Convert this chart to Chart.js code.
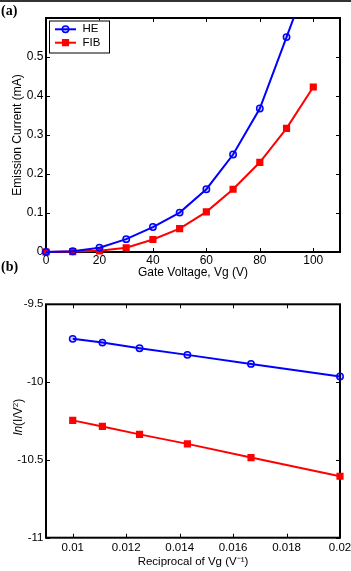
<!DOCTYPE html>
<html>
<head>
<meta charset="utf-8">
<script src="https://cdn.jsdelivr.net/npm/chart.js@4.4.0/dist/chart.umd.min.js"></script>
<style>
  html, body { margin: 0; padding: 0; background: #fff; }
  body { width: 351px; height: 571px; position: relative; overflow: hidden; }
  canvas { position: absolute; left: 0; }
  #ca { top: 0; }
  #cb { top: 285px; }
  .lbl { position: absolute; left: 1px; font: bold 14px "Liberation Serif", "Times New Roman", serif; line-height: 16px; color: #000; }
  #topline { position: absolute; left: 0; top: 0; width: 351px; height: 1.5px; background: #333; }
</style>
</head>
<body>
<canvas id="ca" width="351" height="285"></canvas>
<canvas id="cb" width="351" height="286"></canvas>
<div id="topline"></div>
<div class="lbl" style="top:3px">(a)</div>
<div class="lbl" style="top:259px">(b)</div>
<script>
// ---------- Data (a) ----------
const gateVoltage = [0, 10, 20, 30, 40, 50, 60, 70, 80, 90, 100];
const heCurrent   = [0, 0.002, 0.011, 0.033, 0.064, 0.101, 0.161, 0.250, 0.368, 0.551, 0.735];
const fibCurrent  = [0, 0.001, 0.003, 0.011, 0.032, 0.060, 0.103, 0.161, 0.230, 0.317, 0.423];
const aXTicks = [0, 20, 40, 60, 80, 100];
const aXTickLabels = ['0', '20', '40', '60', '80', '100'];
const aYTicks = [0, 0.1, 0.2, 0.3, 0.4, 0.5];
const aYTickLabels = ['0', '0.1', '0.2', '0.3', '0.4', '0.5'];

// ---------- Data (b) ----------
const reciprocalVg = [0.01, 0.01111, 0.0125, 0.01429, 0.01667, 0.02];
const heLn  = [-9.722, -9.746, -9.782, -9.825, -9.883, -9.964];
const fibLn = [-10.246, -10.285, -10.336, -10.397, -10.485, -10.605];
const bXTicks = [0.01, 0.012, 0.014, 0.016, 0.018, 0.02];
const bXTickLabels = ['0.01', '0.012', '0.014', '0.016', '0.018', '0.02'];
const bYTicks = [-11, -10.5, -10, -9.5];
const bYTickLabels = ['-11', '-10.5', '-10', '-9.5'];

const FONT = '"Liberation Sans", Arial, Helvetica, sans-serif';
const BLUE = '#0000ff', RED = '#ff0000';

function pts(xs, ys) { return xs.map((x, i) => ({ x: x, y: ys[i] })); }

const framePlugin = {
  id: 'frame',
  beforeDatasetsDraw(chart) {
    const { ctx, chartArea: { left, top, right, bottom } } = chart;
    const x = chart.scales.x, y = chart.scales.y;
    const L = 4;
    ctx.save();
    ctx.strokeStyle = '#000';
    ctx.lineWidth = 1;
    ctx.beginPath();
    x.ticks.forEach(t => {
      const px = Math.round(x.getPixelForValue(t.value)) + 0.5;
      ctx.moveTo(px, bottom); ctx.lineTo(px, bottom - L);
      ctx.moveTo(px, top); ctx.lineTo(px, top + L);
    });
    y.ticks.forEach(t => {
      const py = Math.round(y.getPixelForValue(t.value)) + 0.5;
      ctx.moveTo(left, py); ctx.lineTo(left + L, py);
      ctx.moveTo(right, py); ctx.lineTo(right - L, py);
    });
    ctx.stroke();
    ctx.lineWidth = 2;
    ctx.strokeRect(left, top, right - left, bottom - top);
    ctx.restore();
  }
};

const legendPlugin = {
  id: 'boxLegend',
  afterDatasetsDraw(chart, args, opts) {
    if (!opts || !opts.show) return;
    const ctx = chart.ctx;
    const bx = 49, by = 20.5, bw = 60, bh = 32;
    ctx.save();
    ctx.fillStyle = '#fff';
    ctx.fillRect(bx, by, bw, bh);
    ctx.strokeStyle = '#000';
    ctx.lineWidth = 1;
    ctx.strokeRect(bx + 0.5, by + 0.5, bw, bh);
    const rows = [29.3, 42.7];
    chart.data.datasets.forEach((ds, i) => {
      const yy = rows[i];
      ctx.strokeStyle = ds.borderColor;
      ctx.lineWidth = 2;
      ctx.beginPath(); ctx.moveTo(55, yy); ctx.lineTo(76, yy); ctx.stroke();
      ctx.fillStyle = ds.pointBackgroundColor;
      ctx.strokeStyle = ds.pointBorderColor;
      ctx.lineWidth = ds.pointBorderWidth;
      ctx.beginPath();
      if (ds.pointStyle === 'circle') {
        ctx.arc(65.5, yy, ds.pointRadius, 0, Math.PI * 2);
      } else {
        const s = Math.SQRT1_2 * ds.pointRadius;
        ctx.rect(65.5 - s, yy - s, 2 * s, 2 * s);
      }
      ctx.fill(); ctx.stroke();
      ctx.fillStyle = '#000';
      ctx.font = '11.5px ' + FONT;
      ctx.textBaseline = 'middle';
      ctx.textAlign = 'left';
      ctx.fillText(ds.label, 82.5, yy);
    });
    ctx.restore();
  }
};

const lnTitlePlugin = {
  id: 'lnTitle',
  afterDraw(chart, args, opts) {
    if (!opts || !opts.show) return;
    const ctx = chart.ctx;
    const cx = 17, cy = opts.cy;
    const parts = [
      { t: 'ln', f: 'italic 12px ' + FONT, dy: 0 },
      { t: '(I/V', f: '12px ' + FONT, dy: 0 },
      { t: '2', f: '8px ' + FONT, dy: -4 },
      { t: ')', f: '12px ' + FONT, dy: 0 }
    ];
    ctx.save();
    let total = 0;
    parts.forEach(p => { ctx.font = p.f; p.w = ctx.measureText(p.t).width; total += p.w; });
    ctx.translate(cx, cy);
    ctx.rotate(-Math.PI / 2);
    ctx.fillStyle = '#000';
    ctx.textBaseline = 'alphabetic';
    ctx.textAlign = 'left';
    let xx = -total / 2;
    parts.forEach(p => { ctx.font = p.f; ctx.fillText(p.t, xx, 4.5 + p.dy); xx += p.w; });
    ctx.restore();
  }
};

function makeAxis(opts) {
  return {
    type: 'linear',
    min: opts.min, max: opts.max,
    grid: { display: false, drawTicks: false, tickLength: 0 },
    border: { display: false },
    ticks: {
      color: '#000',
      font: { family: FONT, size: opts.fontSize },
      padding: opts.tickPad,
      maxRotation: 0, minRotation: 0,
      autoSkip: false,
      callback: (v, i) => opts.labels[i]
    },
    title: opts.title ? {
      display: true, text: opts.title, color: '#000',
      font: { family: FONT, size: opts.titleSize || opts.fontSize },
      padding: opts.titlePad
    } : { display: false },
    afterBuildTicks: s => { s.ticks = opts.ticks.map(v => ({ value: v })); },
    afterFit: s => {
      if (opts.horizontal) { s.height = opts.size; s.paddingLeft = 0; s.paddingRight = 0; }
      else { s.width = opts.size; s.paddingTop = 0; s.paddingBottom = 0; }
    }
  };
}

function ds(label, data, color, style, radius, bg) {
  return {
    label: label, data: data, showLine: true,
    borderColor: color, backgroundColor: color, borderWidth: 2,
    pointStyle: style, pointRadius: radius, pointHoverRadius: radius,
    pointBorderWidth: 1.5, pointBorderColor: color, pointBackgroundColor: bg,
    tension: 0
  };
}

// ---------- Chart (a) ----------
new Chart(document.getElementById('ca'), {
  type: 'scatter',
  data: {
    datasets: [
      Object.assign(ds('HE', pts(gateVoltage, heCurrent), BLUE, 'circle', 3.2, 'rgba(0,0,255,0.15)'), { clip: { left: 6, right: 6, top: 0, bottom: 6 } }),
      Object.assign(ds('FIB', pts(gateVoltage, fibCurrent), RED, 'rect', 4, RED), { clip: { left: 6, right: 6, top: 0, bottom: 6 } })
    ]
  },
  options: {
    responsive: false, animation: false, devicePixelRatio: 1,
    layout: { padding: { top: 18, right: 11, left: 0, bottom: 0 } },
    plugins: { legend: { display: false }, tooltip: { enabled: false }, boxLegend: { show: true } },
    scales: {
      x: makeAxis({ min: 0, max: 110, ticks: aXTicks, labels: aXTickLabels, fontSize: 12, tickPad: 1.3,
        title: 'Gate Voltage, Vg (V)', titlePad: { top: 0, bottom: 5.3 }, horizontal: true, size: 33 }),
      y: makeAxis({ min: 0, max: 0.6, ticks: aYTicks, labels: aYTickLabels, fontSize: 12, tickPad: 2.5,
        title: 'Emission Current (mA)', titlePad: { top: 10, bottom: 0 }, horizontal: false, size: 46 })
    }
  },
  plugins: [framePlugin, legendPlugin]
});

// ---------- Chart (b) ----------
new Chart(document.getElementById('cb'), {
  type: 'scatter',
  data: {
    datasets: [
      Object.assign(ds('HE', pts(reciprocalVg, heLn), BLUE, 'circle', 3.2, 'rgba(0,0,255,0.15)'), { clip: false }),
      Object.assign(ds('FIB', pts(reciprocalVg, fibLn), RED, 'rect', 4, RED), { clip: false })
    ]
  },
  options: {
    responsive: false, animation: false, devicePixelRatio: 1,
    layout: { padding: { top: 19.3, right: 11, left: 0, bottom: 0 } },
    plugins: { legend: { display: false }, tooltip: { enabled: false }, lnTitle: { show: true, cy: 132 } },
    scales: {
      x: makeAxis({ min: 0.009, max: 0.02, ticks: bXTicks, labels: bXTickLabels, fontSize: 11.5, tickPad: 3.4,
        title: 'Reciprocal of Vg (V\u207B\u00B9)', titlePad: { top: 0, bottom: 2.4 }, horizontal: true, size: 33.3 }),
      y: makeAxis({ min: -11, max: -9.5, ticks: bYTicks, labels: bYTickLabels, fontSize: 11.5, tickPad: 2.5,
        title: null, horizontal: false, size: 46 })
    }
  },
  plugins: [framePlugin, lnTitlePlugin]
});
</script>
</body>
</html>
